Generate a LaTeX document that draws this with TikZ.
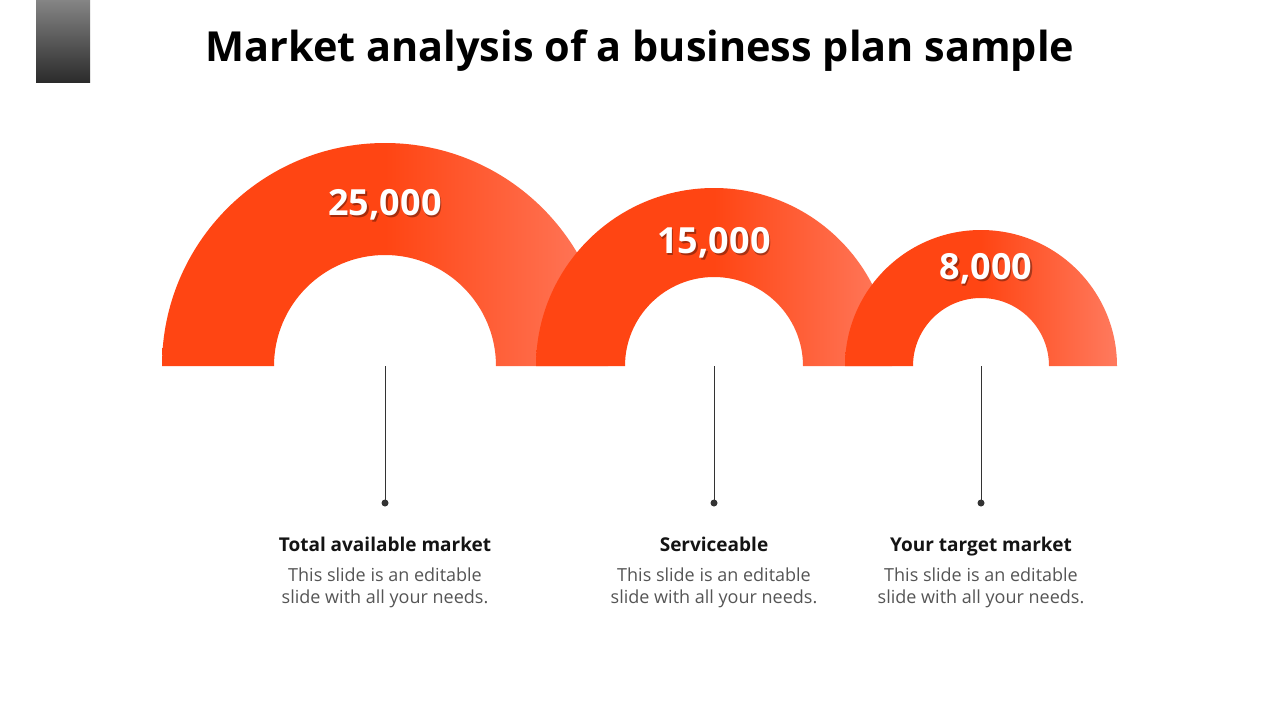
\documentclass[tikz,border=0pt]{standalone}
\usepackage{fontspec}
\setmainfont{Open Sans}
\usetikzlibrary{calc}
\definecolor{arcdark}{HTML}{FF4513}
\definecolor{arclight}{HTML}{FF7A5E}
\definecolor{linecol}{HTML}{333333}
\definecolor{bodygray}{HTML}{555555}
\pgfdeclarehorizontalshading{arcgrad}{100bp}{color(0bp)=(arcdark); color(25bp)=(arcdark); color(50bp)=(arcdark); color(75bp)=(arclight); color(100bp)=(arclight)}
\tikzset{
  arcshade/.style={shading=arcgrad, draw=none},
  numtext/.style={font=\bfseries\fontsize{36}{40}\selectfont, text=white, inner sep=0pt},
  numshadow/.style={font=\bfseries\fontsize{36}{40}\selectfont, text=black, opacity=0.35, inner sep=0pt},
  headtext/.style={font=\bfseries\fontsize{19}{22}\selectfont, text=black!92, inner sep=0pt, anchor=base},
  bodytext/.style={font=\fontsize{18}{22}\selectfont, text=bodygray, align=center, inner sep=0pt},
  stem/.style={draw=linecol, line width=0.9pt},
  dotmark/.style={fill=linecol},
}
\newcommand{\halfring}[3]{% center, outer R, inner r
  \shade[arcshade] ($(#1)+(-#2,0)$) arc[start angle=180, end angle=360, radius=#2]
    -- ($(#1)+(#3,0)$) arc[start angle=0, end angle=-180, radius=#3] -- cycle;
}
\begin{document}
\begin{tikzpicture}[x=1pt,y=-1pt]
\useasboundingbox (0,0) rectangle (1280,720);
\fill[white] (0,0) rectangle (1280,720);
% gray tab
\shade[top color=black!48, bottom color=black!83] (36,0) rectangle (90,82);
% title
\node[font=\bfseries\fontsize{41.4}{46}\selectfont, inner sep=0pt] (title) at (640,51) {Market analysis of a business plan sample};
% centers
\coordinate (c1) at (385,366);
\coordinate (c2) at (714,366);
\coordinate (c3) at (981,366);
\halfring{c1}{223}{111}
\halfring{c2}{178}{89}
\halfring{c3}{136}{68}
% numbers
\node[numshadow] at (386.5,206.5) {25,000};
\node[numtext] (n1) at (385,205) {25,000};
\node[numshadow] at (715.5,244.5) {15,000};
\node[numtext] (n2) at (714,243) {15,000};
\node[numshadow] at (987.5,270.5) {8,000};
\node[numtext] (n3) at (986,269) {8,000};
% stems
\coordinate (d1) at (385,503);
\coordinate (d2) at (714,503);
\coordinate (d3) at (981,503);
\draw[stem] (c1) -- (d1);
\draw[stem] (c2) -- (d2);
\draw[stem] (c3) -- (d3);
\fill[dotmark] (d1) circle[radius=3.5];
\fill[dotmark] (d2) circle[radius=3.5];
\fill[dotmark] (d3) circle[radius=3.5];
% labels
\node[headtext] (h1) at (385,551) {Total available market};
\node[headtext] (h2) at (714,551) {Serviceable};
\node[headtext] (h3) at (981,551) {Your target market};
\node[bodytext] (b1) at (385,588) {This slide is an editable\\slide with all your needs.};
\node[bodytext] (b2) at (714,588) {This slide is an editable\\slide with all your needs.};
\node[bodytext] (b3) at (981,588) {This slide is an editable\\slide with all your needs.};
\end{tikzpicture}
\end{document}
